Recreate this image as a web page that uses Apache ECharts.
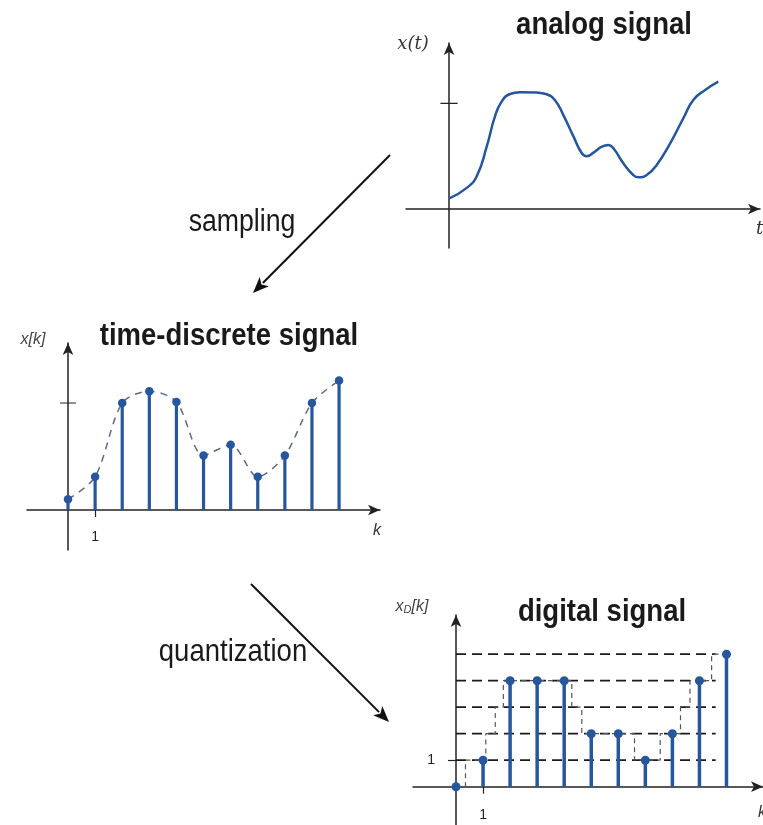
<!DOCTYPE html>
<html>
<head>
<meta charset="utf-8">
<script src="https://cdn.jsdelivr.net/npm/echarts@6/dist/echarts.min.js"></script>
<style>html,body{margin:0;padding:0;background:#fff}#c{width:763px;height:825px}</style>
</head>
<body>
<div id="c"></div>
<script>
// ---- data ----
const analogT = [0.01, 0.66, 1.03, 1.40, 1.71, 1.96, 2.27, 2.64, 3.26, 3.63, 3.94, 4.25, 4.62, 4.93, 5.12, 5.37, 5.68, 5.92, 6.11, 6.48, 6.85, 7.04, 7.35, 7.72, 8.22, 8.71, 9.08, 9.52, 10.01];
const analogX = [0.10, 0.20, 0.31, 0.59, 0.88, 1.02, 1.09, 1.106, 1.103, 1.087, 1.03, 0.89, 0.69, 0.53, 0.50, 0.534, 0.59, 0.607, 0.575, 0.433, 0.322, 0.30, 0.322, 0.417, 0.622, 0.86, 1.033, 1.128, 1.207];
const kIdx = [0, 1, 2, 3, 4, 5, 6, 7, 8, 9, 10];
const xk = [0.10, 0.31, 1.00, 1.11, 1.01, 0.51, 0.61, 0.31, 0.51, 1.00, 1.21];
const xD = [0, 1, 4, 4, 4, 2, 2, 1, 2, 4, 5];
const qLevels = [1, 2, 3, 4, 5];
const qLineEnd = 9.6;
const stairK = [0, 0.35, 0.35, 1.1, 1.1, 1.45, 1.45, 1.75, 1.75, 4.28, 4.28, 4.65, 4.65, 6.6, 6.6, 7.55, 7.55, 8.3, 8.3, 8.65, 8.65, 9.45, 9.45, 10];
const stairL = [0, 0, 1, 1, 2, 2, 3, 3, 4, 4, 3, 3, 2, 2, 1, 1, 2, 2, 3, 3, 4, 4, 5, 5];
const analogTick = [1];
const discreteTickX = [1];
const discreteTickY = [1];
const digitalTickX = [1];
const digitalTickY = [1];

// ---- styling ----
const BLUE = '#26569b';
const AX = '#222';
const SANS = '"Liberation Sans", Arial, sans-serif';
const SX = 0.86;

const chart = echarts.init(document.getElementById('c'), null, {renderer: 'canvas'});

function axisLine() {
  return {show: true, onZero: true, symbol: ['none', 'arrow'], symbolSize: [8, 12],
          lineStyle: {color: AX, width: 1.5}};
}
function baseX(idx, min, max, tickVals, labelMargin) {
  return {type: 'value', gridIndex: idx, min: min, max: max,
    axisLine: axisLine(), splitLine: {show: false},
    axisTick: tickVals ? {show: true, customValues: tickVals, length: 7, lineStyle: {color: AX, width: 1.2}} : {show: false},
    axisLabel: tickVals ? {show: true, customValues: tickVals, margin: labelMargin, color: '#222', fontSize: 14, fontFamily: 'Liberation Sans'} : {show: false}
  };
}
function baseY(idx, min, max, tickVals, labelMargin) {
  return {type: 'value', gridIndex: idx, min: min, max: max,
    axisLine: axisLine(), splitLine: {show: false},
    axisTick: tickVals ? {show: true, customValues: tickVals, length: 8, lineStyle: {color: AX, width: 1.2}} : {show: false},
    axisLabel: tickVals ? {show: true, customValues: tickVals, margin: labelMargin, color: '#222', fontSize: 14, fontFamily: 'Liberation Sans'} : {show: false}
  };
}

const series = [];
// analog curve
series.push({type: 'line', xAxisIndex: 0, yAxisIndex: 0, smooth: 0.5, symbol: 'none',
  data: analogT.map((t, i) => [t, analogX[i]]), lineStyle: {color: BLUE, width: 2.5}, z: 3});
// analog y tick (crossing)
series.push({type: 'line', xAxisIndex: 0, yAxisIndex: 0, symbol: 'none',
  data: [[-0.32, analogTick[0]], [0.32, analogTick[0]]], lineStyle: {color: AX, width: 1.2}, z: 2});

// discrete: dashed envelope
series.push({type: 'line', xAxisIndex: 1, yAxisIndex: 1, smooth: 0.3, symbol: 'none',
  data: kIdx.map((k, i) => [k, xk[i]]), lineStyle: {color: '#5f6b80', width: 1.5, type: [7, 6]}, z: 1});
// discrete y tick (crossing)
series.push({type: 'line', xAxisIndex: 1, yAxisIndex: 1, symbol: 'none',
  data: [[-0.3, discreteTickY[0]], [0.3, discreteTickY[0]]], lineStyle: {color: AX, width: 1.2}, z: 2});
// discrete stems
series.push({type: 'bar', xAxisIndex: 1, yAxisIndex: 1, barWidth: 3.2,
  data: kIdx.map((k, i) => [k, xk[i]]), itemStyle: {color: BLUE}, z: 3});
series.push({type: 'scatter', xAxisIndex: 1, yAxisIndex: 1, symbolSize: 8.5,
  data: kIdx.map((k, i) => [k, xk[i]]), itemStyle: {color: BLUE, opacity: 1}, z: 4});

// digital: quantization level lines
qLevels.forEach(L => {
  series.push({type: 'line', xAxisIndex: 2, yAxisIndex: 2, symbol: 'none',
    data: [[0, L], [qLineEnd, L]], lineStyle: {color: '#1a1a1a', width: 1.8, type: [10, 6]}, z: 1});
});
// digital: staircase of quantized analog
series.push({type: 'line', xAxisIndex: 2, yAxisIndex: 2, symbol: 'none',
  data: stairK.map((k, i) => [k, stairL[i]]), lineStyle: {color: '#555', width: 1.2, type: [5, 4]}, z: 1});
// digital stems
series.push({type: 'bar', xAxisIndex: 2, yAxisIndex: 2, barWidth: 3.5,
  data: kIdx.map((k, i) => [k, xD[i]]), itemStyle: {color: BLUE}, z: 3});
series.push({type: 'scatter', xAxisIndex: 2, yAxisIndex: 2, symbolSize: 9,
  data: kIdx.map((k, i) => [k, xD[i]]), itemStyle: {color: BLUE, opacity: 1}, z: 4});

function arrow(x1, y1, x2, y2) {
  const dx = x2 - x1, dy = y2 - y1, len = Math.hypot(dx, dy);
  const ux = dx / len, uy = dy / len, hl = 16, hw = 6.5;
  const bx = x2 - ux * hl, by = y2 - uy * hl;
  return [
    {type: 'line', shape: {x1: x1, y1: y1, x2: bx + ux * 2, y2: by + uy * 2}, style: {stroke: '#111', lineWidth: 2}},
    {type: 'polygon', shape: {points: [[x2, y2], [bx - uy * hw, by + ux * hw], [bx + ux * 4, by + uy * 4], [bx + uy * hw, by - ux * hw]]}, style: {fill: '#111'}}
  ];
}
function txt(x, y, text, font, align, extra, sx) {
  return {type: 'text', x: x, y: y, scaleX: sx || 1, scaleY: 1,
    style: Object.assign({text: text, font: font, fill: '#1a1a1a', align: align || 'center', verticalAlign: 'middle'}, extra || {})};
}

const graphics = [].concat(
  arrow(390, 155, 253, 293),
  arrow(251, 584, 389, 722),
  [
    txt(604, 25, 'analog signal', 'bold 32px ' + SANS, 'center', null, SX),
    txt(229, 336, 'time-discrete signal', 'bold 32px ' + SANS, 'center', null, SX),
    txt(602, 612, 'digital signal', 'bold 32px ' + SANS, 'center', null, SX),
    txt(242, 222, 'sampling', '31px ' + SANS, 'center', null, SX),
    txt(233, 652, 'quantization', '32px ' + SANS, 'center', null, SX),
    txt(413, 44, 'x(t)', 'italic 18px "DejaVu Serif", serif', 'center', {fill: '#333'}),
    txt(33, 340, 'x[k]', 'italic 16px "Liberation Sans", sans-serif', 'center', {fill: '#444'}),
    txt(377, 531, 'k', 'italic 16px "Liberation Sans", sans-serif', 'center', {fill: '#333'}),
    txt(756, 229, 't', 'italic 18px "DejaVu Serif", serif', 'left', {fill: '#333'}),
    txt(758, 813, 'k', 'italic 16px "Liberation Sans", sans-serif', 'left', {fill: '#333'}),
    {type: 'text', x: 412, y: 607, style: {text: '{a|x}{b|D}{a|[k]}', align: 'center', verticalAlign: 'middle', fill: '#444',
      rich: {a: {font: 'italic 16px "Liberation Sans", sans-serif', fill: '#444'},
             b: {font: 'italic 11px "Liberation Sans", sans-serif', fill: '#444', padding: [6, 0, 0, 0]}}}}
  ]
);

chart.setOption({
  animation: false,
  backgroundColor: '#fff',
  grid: [
    {left: 406, top: 43, width: 354, height: 205, containLabel: false, outerBoundsMode: 'none'},
    {left: 27, top: 343, width: 353, height: 207, containLabel: false, outerBoundsMode: 'none'},
    {left: 413, top: 615, width: 350, height: 215, containLabel: false, outerBoundsMode: 'none'}
  ],
  xAxis: [
    baseX(0, -1.6, 11.56, null, 0),
    baseX(1, -1.513, 11.51, discreteTickX, -20),
    baseX(2, -1.59, 11.35, digitalTickX, -22)
  ],
  yAxis: [
    baseY(0, -0.37, 1.573, null, 0),
    baseY(1, -0.374, 1.561, null, 0),
    baseY(2, -1.634, 6.48, digitalTickY, -22)
  ],
  series: series,
  graphic: graphics
});
</script>
</body>
</html>
